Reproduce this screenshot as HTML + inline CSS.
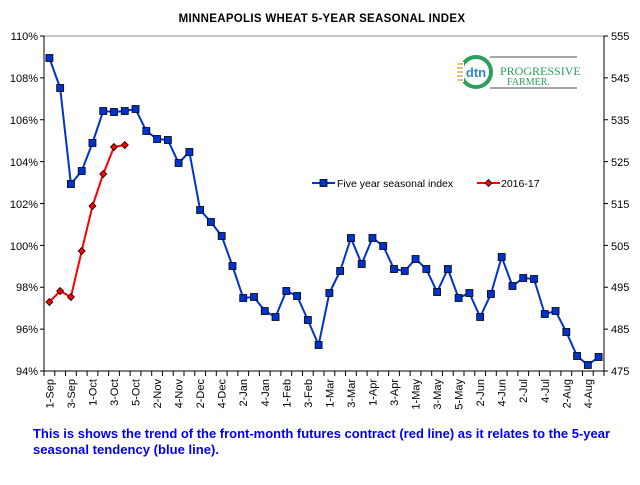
<!DOCTYPE html>
<html><head><meta charset="utf-8"><style>
body{margin:0;background:#fff;width:640px;height:480px;overflow:hidden;font-family:"Liberation Sans",Arial,sans-serif}
</style></head><body>
<svg width="640" height="480" xmlns="http://www.w3.org/2000/svg" font-family="Liberation Sans, Arial, sans-serif">
<text x="322" y="22" text-anchor="middle" font-size="11.5" font-weight="bold" letter-spacing="0.3">MINNEAPOLIS  WHEAT 5-YEAR SEASONAL INDEX</text>
<g stroke="#000" stroke-width="1" fill="none">
<line x1="44" y1="36" x2="604" y2="36" stroke="#888"/>
<line x1="44" y1="36" x2="44" y2="371"/>
<line x1="604" y1="36" x2="604" y2="371"/>
<line x1="44" y1="371" x2="604" y2="371"/>
</g>
<g id="lt" stroke="#000"></g>
<g font-size="11" fill="#000">
<text x="38" y="40" text-anchor="end">110%</text>
<text x="38" y="82" text-anchor="end">108%</text>
<text x="38" y="124" text-anchor="end">106%</text>
<text x="38" y="166" text-anchor="end">104%</text>
<text x="38" y="208" text-anchor="end">102%</text>
<text x="38" y="250" text-anchor="end">100%</text>
<text x="38" y="291" text-anchor="end">98%</text>
<text x="38" y="333" text-anchor="end">96%</text>
<text x="38" y="375" text-anchor="end">94%</text>
<text x="611" y="40">555</text>
<text x="611" y="82">545</text>
<text x="611" y="124">535</text>
<text x="611" y="166">525</text>
<text x="611" y="208">515</text>
<text x="611" y="250">505</text>
<text x="611" y="291">495</text>
<text x="611" y="333">485</text>
<text x="611" y="375">475</text>
</g>
<g id="ticks" stroke="#000"></g>
<g id="xl" font-size="11"></g>
<g>
<circle cx="476" cy="72" r="15" fill="none" stroke="#2aa05a" stroke-width="4"/>
<rect x="458" y="62" width="6" height="20" fill="#fff"/>
<g stroke="#f0a050" stroke-width="1.5"><line x1="458" y1="64" x2="463" y2="64"/><line x1="457" y1="68" x2="463" y2="68"/><line x1="457" y1="72" x2="463" y2="72"/><line x1="457" y1="76" x2="463" y2="76"/><line x1="458" y1="80" x2="463" y2="80"/></g>
<text x="476" y="77" text-anchor="middle" font-size="13" font-weight="bold" fill="#2a8ad0">dtn</text>
<line x1="490" y1="57" x2="577" y2="57" stroke="#888" stroke-width="1.5"/>
<line x1="490" y1="88" x2="577" y2="88" stroke="#888" stroke-width="1.5"/>
<text x="500" y="75" font-family="Liberation Serif, serif" font-size="12" fill="#2aa05a">PROGRESSIVE</text>
<text x="507" y="85" font-family="Liberation Serif, serif" font-size="10" fill="#2aa05a">FARMER.</text>
</g>
<line x1="312" y1="183" x2="335" y2="183" stroke="#0033cc" stroke-width="2"/>
<rect x="320" y="179.5" width="7" height="7" fill="#0033cc" stroke="#000" stroke-width="0.8"/>
<text x="337" y="187" font-size="10.5">Five year seasonal index</text>
<line x1="477" y1="183" x2="500" y2="183" stroke="#ff0000" stroke-width="2"/>
<path d="M488.5 179.5 L492 183 L488.5 186.5 L485 183 Z" fill="#ff0000" stroke="#000" stroke-width="0.8"/>
<text x="501" y="187" font-size="10.5">2016-17</text>
<g id="series"></g>
<text x="33" y="438" font-size="12.5" font-weight="bold" fill="#0000ee" textLength="577" lengthAdjust="spacingAndGlyphs">This is shows the trend of the front-month futures contract (red line) as it relates to the 5-year</text>
<text x="33" y="454" font-size="12.5" font-weight="bold" fill="#0000ee" textLength="186" lengthAdjust="spacingAndGlyphs">seasonal tendency (blue line).</text>
</svg>
<script>
var NS="http://www.w3.org/2000/svg";
function el(t,a,p){var e=document.createElementNS(NS,t);for(var k in a)e.setAttribute(k,a[k]);document.getElementById(p).appendChild(e);return e;}
var step=560/52;
for(var i=0;i<=8;i++){var y=36+i*335/8;el("line",{x1:40,y1:y,x2:44,y2:y},"lt");el("line",{x1:604,y1:y,x2:608,y2:y},"lt");}
for(var i=0;i<=52;i++){var x=44+i*step;el("line",{x1:x,y1:371,x2:x,y2:376},"ticks");}
var labs=["1-Sep","3-Sep","1-Oct","3-Oct","5-Oct","2-Nov","4-Nov","2-Dec","4-Dec","2-Jan","4-Jan","1-Feb","3-Feb","1-Mar","3-Mar","1-Apr","3-Apr","1-May","3-May","5-May","2-Jun","4-Jun","2-Jul","4-Jul","2-Aug","4-Aug"];
labs.forEach(function(l,j){var x=44+(2*j+0.5)*step+4;var t=el("text",{x:0,y:0,"text-anchor":"end",transform:"translate("+x+",379) rotate(-90)"},"xl");t.textContent=l;});
var blue=[58,88,184,171,143,111,112,111,109,131,139,140,163,152,210,222,236,266,298,297,311,317,291,296,320,345,293,271,238,264,238,246,269,271,259,269,292,269,298,293,317,294,257,286,278,279,314,311,332,356,365,357];
var red=[302,291,297,251,206,174,147,145];
function px(i){return 44+(i+0.5)*step;}
el("polyline",{points:blue.map(function(y,i){return px(i)+","+y}).join(" "),fill:"none",stroke:"#0033cc","stroke-width":2},"series");
blue.forEach(function(y,i){el("rect",{x:px(i)-3.5,y:y-3.5,width:7,height:7,fill:"#0033cc",stroke:"#000","stroke-width":0.8},"series");});
el("polyline",{points:red.map(function(y,i){return px(i)+","+y}).join(" "),fill:"none",stroke:"#ff0000","stroke-width":2},"series");
red.forEach(function(y,i){var x=px(i);el("path",{d:"M"+x+" "+(y-3.5)+" L"+(x+3.5)+" "+y+" L"+x+" "+(y+3.5)+" L"+(x-3.5)+" "+y+" Z",fill:"#ff0000",stroke:"#000","stroke-width":0.8},"series");});
</script>
</body></html>
